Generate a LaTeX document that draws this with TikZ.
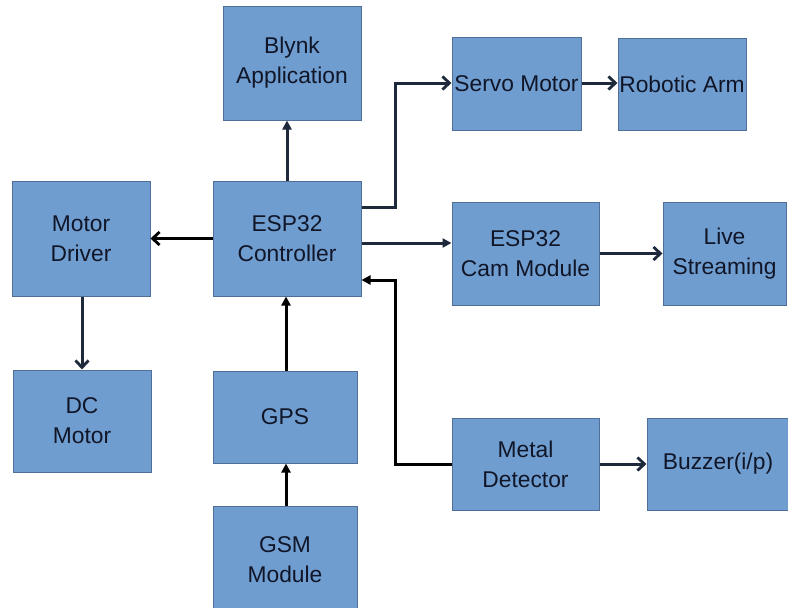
\documentclass[tikz,border=0pt]{standalone}
\usepackage{fontspec}
\setmainfont{Liberation Sans}
\usetikzlibrary{arrows.meta,calc}
\definecolor{boxfill}{RGB}{112,157,207}
\definecolor{boxline}{RGB}{80,110,150}
\definecolor{txt}{RGB}{16,22,40}
\definecolor{wire}{RGB}{30,42,60}
\begin{document}
\begin{tikzpicture}[x=1pt,y=-1pt,
  blk/.style={draw=boxline,line width=1pt,fill=boxfill,text=txt,align=center,
    inner sep=0pt,font=\fontsize{22.8}{30}\selectfont},
  barb/.style={draw=wire,line width=3pt,-{Straight Barb[length=7pt,width=13pt,line width=2.8pt]}},
  tri/.style={draw=wire,line width=3pt,-{Triangle[length=9pt,width=9pt]}},
  blk2/.style={draw=black,line width=3pt,-{Straight Barb[length=7pt,width=13pt,line width=2.8pt]}},
  tri2/.style={draw=black,line width=3pt,-{Triangle[length=9pt,width=9pt]}}]
\useasboundingbox (0,0) rectangle (788,608);
% boxes
\node[blk,minimum width=138pt,minimum height=114pt] (blynk) at (292,63) {Blynk\\Application};
\node[blk,minimum width=129pt,minimum height=93pt] (servo) at (516.5,83.5) {Servo Motor};
\node[blk,minimum width=128pt,minimum height=92pt] (arm) at (682,84) {Robotic Arm};
\node[blk,minimum width=138pt,minimum height=115pt] (driver) at (81,238.5) {Motor\\Driver};
\node[blk,minimum width=148pt,minimum height=115pt] (esp) at (287,238.5) {ESP32\\Controller};
\node[blk,minimum width=147pt,minimum height=103pt] (cam) at (525.5,253.5) {ESP32\\Cam Module};
\node[blk,minimum width=123pt,minimum height=103pt] (live) at (724.5,253.5) {Live\\Streaming};
\node[blk,minimum width=138pt,minimum height=102pt] (dc) at (82,421) {DC\\Motor};
\node[blk,minimum width=144pt,minimum height=92pt] (gps) at (285,417) {GPS};
\node[blk,minimum width=147pt,minimum height=92pt] (metal) at (525.5,464) {Metal\\Detector};
\node[blk,minimum width=142pt,minimum height=92pt] (buzz) at (718,464) {Buzzer(i/p)};
\node[blk,minimum width=144pt,minimum height=108pt] (gsm) at (285,560) {GSM\\Module};
% junction points
\coordinate (j1) at (395,83);
\coordinate (j2) at (395,280);
% connectors
\draw[tri] (esp.north -| 287,0) -- (blynk.south -| 287,0);
\draw[blk2] (esp.west) -- (driver.east);
\draw[barb] (driver.south -| 82,0) -- (dc.north -| 82,0);
\draw[tri2] (gps.north -| 286,0) -- (esp.south -| 286,0);
\draw[tri2] (gsm.north -| 286,0) -- (gps.south -| 286,0);
\draw[barb] (esp.east |- 0,207) -| (j1) -- (servo.west |- j1);
\draw[barb] (servo.east |- 0,83) -- (arm.west |- 0,83);
\draw[tri] (esp.east |- 0,243) -- (cam.west |- 0,243);
\draw[barb] (cam.east) -- (live.west);
\draw[tri2] (metal.west) -| (j2) -- (esp.east |- j2);
\draw[barb] (metal.east) -- (buzz.west);
\end{tikzpicture}
\end{document}
